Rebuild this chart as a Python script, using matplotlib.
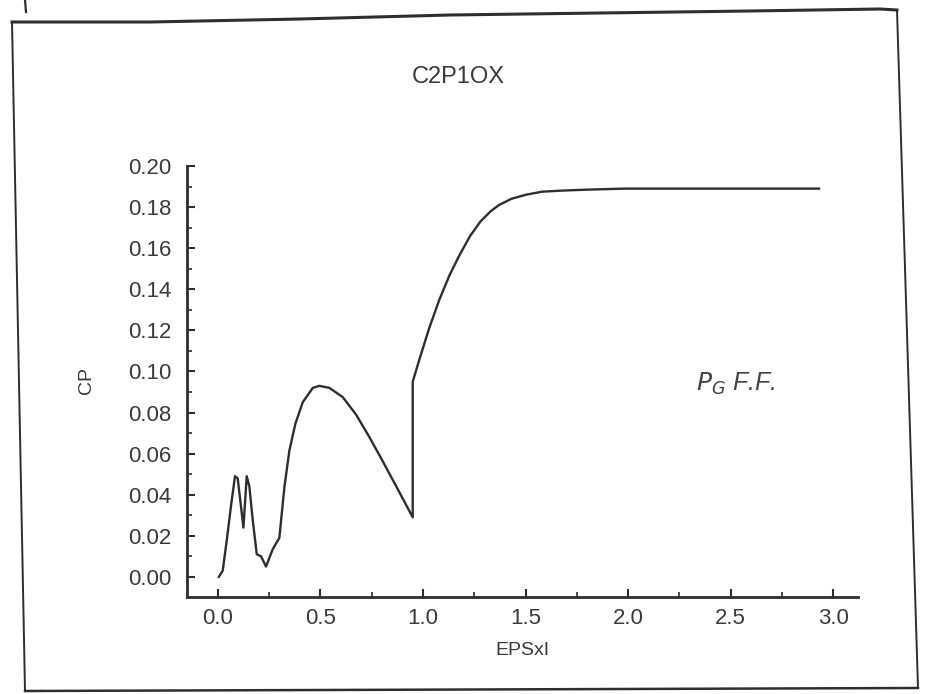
import matplotlib
matplotlib.use("Agg")
import matplotlib.pyplot as plt
from matplotlib.lines import Line2D
from matplotlib.ticker import MultipleLocator, FormatStrFormatter

# CP as a function of EPSxI
eps = [0.005, 0.024, 0.044, 0.065, 0.084, 0.097, 0.110, 0.125, 0.141, 0.154,
       0.170, 0.190, 0.211, 0.235, 0.268, 0.300, 0.325, 0.349, 0.378, 0.414,
       0.463, 0.495, 0.544, 0.609, 0.674, 0.739, 0.800, 0.870, 0.950,
       0.950, 0.980, 1.030, 1.080, 1.130, 1.180, 1.230, 1.280, 1.330, 1.370,
       1.430, 1.500, 1.580, 1.670, 1.800, 1.980, 2.350, 2.930]
cp = [0.000, 0.003, 0.018, 0.035, 0.049, 0.048, 0.037, 0.024, 0.049, 0.044,
      0.028, 0.011, 0.010, 0.005, 0.0135, 0.019, 0.044, 0.0615, 0.0745, 0.085,
      0.092, 0.093, 0.092, 0.0875, 0.079, 0.068, 0.057, 0.044, 0.029,
      0.095, 0.105, 0.121, 0.135, 0.147, 0.157, 0.166, 0.173, 0.178, 0.181,
      0.184, 0.186, 0.1875, 0.188, 0.1885, 0.189, 0.189, 0.189]

title = "C2P1OX"
xlabel = "EPSxI"
ylabel = "CP"
note = r"$P_{G}$ F.F."

ink = "#2e2e2e"
text_ink = "#3a3a3a"
plt.rcParams["font.family"] = ["Liberation Sans", "DejaVu Sans"]

W, H = 925, 694
fig = plt.figure(figsize=(W / 100, H / 100), dpi=100)
fig.patch.set_facecolor("white")

# paper frame around the plot, in pixel positions
def px(x, y):
    return x / W, 1 - y / H

frame_top = [(12, 22), (150, 22), (300, 19), (450, 15), (600, 13),
             (750, 11), (880, 9), (897, 10)]
frame_right = [(897, 10), (918, 688)]
frame_bottom = [(918, 688), (25, 691)]
frame_left = [(25, 691), (12, 22)]
for seg, lw in ((frame_top, 2.2), (frame_right, 1.4),
                (frame_bottom, 1.8), (frame_left, 1.4)):
    xs, ys = zip(*[px(a, b) for a, b in seg])
    fig.add_artist(Line2D(xs, ys, color=ink, lw=lw, transform=fig.transFigure))
xs, ys = zip(*[px(a, b) for a, b in [(25, 0), (26, 12)]])
fig.add_artist(Line2D(xs, ys, color=ink, lw=1.6, transform=fig.transFigure))

ax = fig.add_axes([187 / W, 1 - 597 / H, (858 - 187) / W, (597 - 165) / H])
ax.plot(eps, cp, color=ink, lw=1.7, solid_joinstyle="round")

ax.set_xlim(-0.15, 3.12)
ax.set_ylim(-0.0098, 0.2005)

for s in ("top", "right"):
    ax.spines[s].set_visible(False)
for s in ("left", "bottom"):
    ax.spines[s].set_color(ink)
    ax.spines[s].set_linewidth(2.0)
ax.spines["left"].set_bounds(-0.0098, 0.20)

ax.xaxis.set_minor_locator(MultipleLocator(0.25))
ax.yaxis.set_minor_locator(MultipleLocator(0.01))
ax.set_xticks([0.0, 0.5, 1.0, 1.5, 2.0, 2.5, 3.0])
ax.set_yticks([0.00, 0.02, 0.04, 0.06, 0.08, 0.10, 0.12, 0.14, 0.16, 0.18, 0.20])
ax.xaxis.set_major_formatter(FormatStrFormatter("%.1f"))
ax.yaxis.set_major_formatter(FormatStrFormatter("%.2f"))

ax.tick_params(which="major", direction="in", length=6, width=1.5, color=ink,
               labelsize=16, labelcolor=text_ink, pad=8)
ax.tick_params(axis="y", which="major", pad=11)
ax.tick_params(which="minor", direction="in", length=3.5, width=1.2, color=ink)

ax.set_xlabel(xlabel, fontsize=14, color=text_ink, labelpad=9)
ax.set_ylabel(ylabel, fontsize=14, color=text_ink, labelpad=24)
fig.text(458 / W, 1 - 77 / H, title, ha="center", va="center",
         fontsize=17, color=text_ink)

ax.text(2.33, 0.094, note, fontsize=18, color="#444444", style="italic",
        ha="left", va="center")

fig.savefig("out.png", dpi=100, facecolor="white")
